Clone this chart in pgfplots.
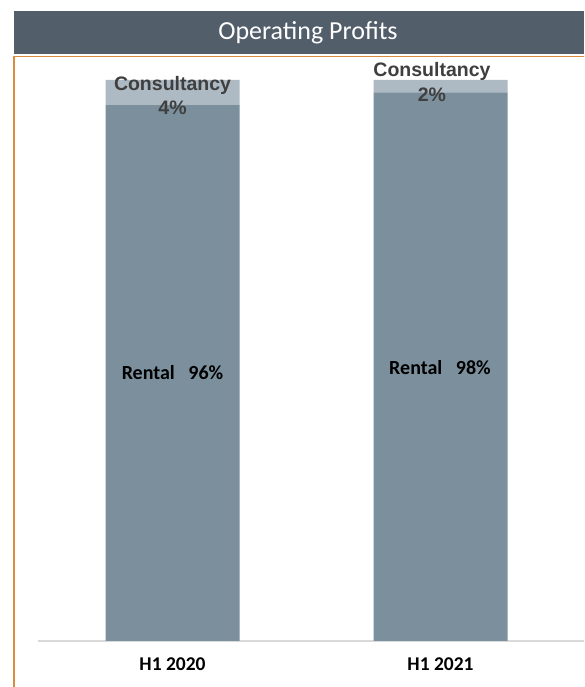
\documentclass[border=0pt]{standalone}
\usepackage{fontspec}
\setmainfont{Carlito}
\newfontfamily\arial{Liberation Sans}
\usepackage{pgfplots}
\pgfplotsset{compat=1.18}
\definecolor{rental}{HTML}{7B8F9C}
\definecolor{consult}{HTML}{ADBAC4}
\definecolor{titlebg}{HTML}{535E6B}
\definecolor{frame}{HTML}{DB8B3D}
\definecolor{txtdark}{HTML}{3F3F3F}
\definecolor{baseline}{HTML}{D9D9D9}
\begin{document}
\begin{tikzpicture}[x=1pt,y=1pt]
% canvas (1pt = 1px of the reference)
\fill[white] (0,0) rectangle (584,687);
\useasboundingbox (0,0) rectangle (584,687);
% title bar and frame
\fill[titlebg] (14,633) rectangle (584,676);
\node[text=white, font=\fontsize{26}{30}\selectfont] at (308,654) {Operating Profits};
\draw[frame, line width=1.4pt] (14,0) -- (14,630.5) -- (584,630.5);

\begin{axis}[
    at={(38pt,46pt)}, anchor=south west,
    scale only axis, width=546pt, height=561pt,
    xmin=-0.5019, xmax=1.5354, ymin=0, ymax=100,
    axis y line=none,
    axis x line*=bottom,
    x axis line style={draw=baseline, line width=1.3pt, -},
    xtick={0,1}, xticklabels={H1 2020, H1 2021},
    major tick length=0pt,
    xticklabel style={anchor=center, yshift=-23pt, font=\bfseries\fontsize{19.5}{22}\selectfont},
    ybar stacked, bar width=134pt,
    clip=false,
]
\addplot[fill=rental, draw=none] coordinates {(0,95.6) (1,97.8)};
\addplot[fill=consult, draw=none] coordinates {(0,4.4) (1,2.2)};
% label positions
\coordinate (c1) at (axis cs:0,99.1);
\coordinate (p1) at (axis cs:0,95.0);
\coordinate (c2) at (axis cs:0.968,101.6);
\coordinate (p2) at (axis cs:0.968,97.3);
\coordinate (r1) at (axis cs:0,47.8);
\coordinate (r2) at (axis cs:0.998,48.8);
\end{axis}
% data labels on top of the bars
\tikzset{clab/.style={text=txtdark, font=\arial\bfseries\fontsize{19.5}{22}\selectfont},
         rlab/.style={text=black, font=\bfseries\fontsize{20}{24}\selectfont}}
\node[clab] at (c1) {Consultancy};
\node[clab] at (p1) {4\%};
\node[clab] at (c2) {Consultancy};
\node[clab] at (p2) {2\%};
\node[rlab] at (r1) {Rental\ \ \ 96\%};
\node[rlab] at (r2) {Rental\ \ \ 98\%};
\end{tikzpicture}
\end{document}
